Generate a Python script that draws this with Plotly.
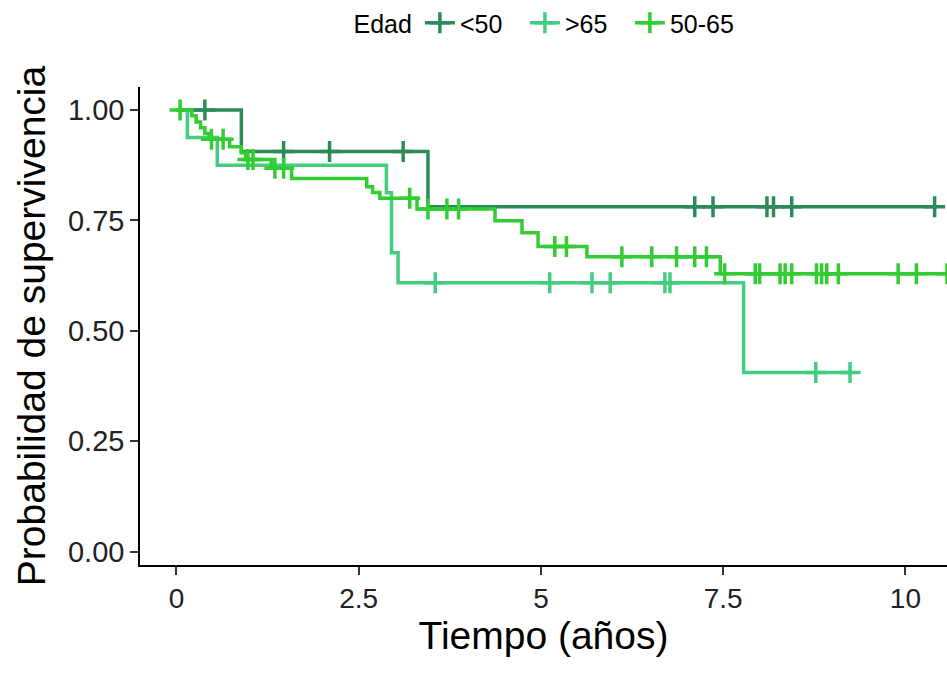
import plotly.graph_objects as go
import numpy as np

# ---- data ----
groups = ["<50", ">65", "50-65"]
colors = {"<50": "#2E8B57", ">65": "#43CD80", "50-65": "#32CD32"}

t_lt50 = [0, 0.89, 3.45, 10.40]
s_lt50 = [1.0, 0.906, 0.781, 0.781]
c_lt50 = [0.39, 1.47, 2.10, 3.11, 7.11, 7.36, 8.10, 8.19, 8.44, 10.40]

t_gt65 = [0, 0.15, 0.56, 2.88, 2.95, 3.04, 7.78, 9.24]
s_gt65 = [1.0, 0.9375, 0.875, 0.8125, 0.677, 0.609, 0.406, 0.406]
c_gt65 = [3.55, 5.12, 5.70, 5.95, 6.70, 6.77, 8.77, 9.24]

t_5065 = [0, 0.21, 0.27, 0.33, 0.39, 0.45, 0.73, 0.89, 0.95, 1.30, 1.58, 2.61, 2.69,
          2.79, 3.30, 4.37, 4.74, 4.96, 5.63, 7.46, 10.7]
s_5065 = [1.0, 0.987, 0.973, 0.960, 0.947, 0.934, 0.917, 0.903, 0.888, 0.868, 0.845,
          0.826, 0.813, 0.800, 0.776, 0.749, 0.722, 0.691, 0.668, 0.629, 0.629]
c_5065 = [0.05, 0.48, 0.64, 0.98, 1.05, 1.35, 1.47, 3.20, 3.45, 3.71, 3.87, 5.19, 5.35,
          6.11, 6.52, 6.86, 7.11, 7.27, 7.52, 7.94, 8.00, 8.28, 8.35, 8.44, 8.78, 8.85,
          8.92, 9.08, 9.90, 10.15, 10.57]

x_ticks = [0, 2.5, 5, 7.5, 10]
x_tick_text = ["0", "2.5", "5", "7.5", "10"]
y_ticks = [0, 0.25, 0.5, 0.75, 1.0]
y_tick_text = ["0.00", "0.25", "0.50", "0.75", "1.00"]

series = {
    "<50": (t_lt50, s_lt50, c_lt50),
    ">65": (t_gt65, s_gt65, c_gt65),
    "50-65": (t_5065, s_5065, c_5065),
}


def step_at(times, surv, t):
    idx = np.searchsorted(np.array(times), t, side="right") - 1
    return surv[max(idx, 0)]


fig = go.Figure()
LW = 3.5
MS = 15
MLW = 3.5
for g in groups:
    t, s, c = series[g]
    col = colors[g]
    fig.add_trace(go.Scatter(x=t, y=s, mode="lines", line=dict(color=col, width=LW, shape="hv"),
                             showlegend=False, hoverinfo="skip"))
    fig.add_trace(go.Scatter(x=c, y=[step_at(t, s, v) for v in c], mode="markers",
                             marker=dict(symbol="cross-thin", size=MS, line=dict(color=col, width=MLW)),
                             showlegend=False, hoverinfo="skip"))
for g in groups:
    col = colors[g]
    fig.add_trace(go.Scatter(x=[None], y=[None], mode="lines+markers", name=g,
                             line=dict(color=col, width=LW),
                             marker=dict(symbol="cross-thin", size=MS, line=dict(color=col, width=MLW))))

FONT = "Liberation Sans, Arial, sans-serif"
fig.update_layout(
    width=947, height=673,
    margin=dict(l=140, r=0, t=87, b=108),
    paper_bgcolor="white", plot_bgcolor="white",
    font=dict(family=FONT, color="black"),
    legend=dict(orientation="h", x=0.5, xanchor="center", y=1.0, yanchor="top",
                yref="container", font=dict(size=25, color="black"),
                entrywidth=60, entrywidthmode="pixels",
                title=dict(text="Edad", font=dict(size=25, color="black"))),
    xaxis=dict(range=[-0.5, 10.57], tickvals=x_ticks, ticktext=x_tick_text,
               showgrid=False, zeroline=False, showline=True, linecolor="black", linewidth=1.5,
               ticks="outside", ticklen=8, tickwidth=1.5, tickcolor="#333333",
               tickfont=dict(size=28, color="#222222", family=FONT),
               title=dict(text="Tiempo (años)", font=dict(size=39, color="black", family=FONT),
                          standoff=6)),
    yaxis=dict(range=[-0.03, 1.052], tickvals=y_ticks, ticktext=y_tick_text,
               showgrid=False, zeroline=False, showline=True, linecolor="black", linewidth=1.5,
               ticks="outside", ticklen=8, tickwidth=1.5, tickcolor="#333333",
               tickfont=dict(size=29, color="#222222", family=FONT),
               title=dict(text="Probabilidad de supervivencia",
                          font=dict(size=39, color="black", family=FONT), standoff=10)),
)

fig.write_html("out.html")
